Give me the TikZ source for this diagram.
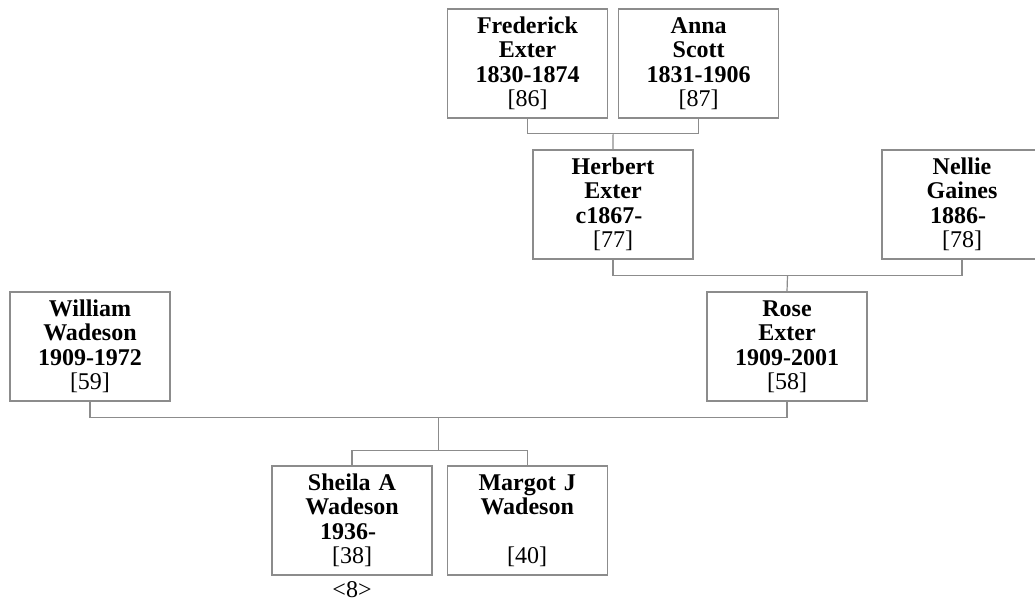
\documentclass[tikz,border=0pt]{standalone}
\usepackage{fontspec}
\setmainfont{Liberation Serif}
\usetikzlibrary{positioning,calc}
\tikzset{
  pb/.style={rectangle, minimum width=160pt, minimum height=109pt, text width=156pt, inner sep=0pt, align=center, draw=black!45, line width=1.2pt, font=\fontsize{24}{24.5}\selectfont},
  ln/.style={draw=black!45, line width=1.2pt},
  node distance=10pt
}

\begin{document}
\begin{tikzpicture}[x=1pt,y=-1pt]
	\useasboundingbox (0,0) rectangle (1035,602);
	\node[pb] (fred) at (527.5,63.5) {\textbf{Frederick}\\\textbf{Exter}\\\textbf{1830-1874}\\{[86]}};
	\node[pb, right=of fred] (anna) {\textbf{Anna}\\\textbf{Scott}\\\textbf{1831-1906}\\{[87]}};
	\node[pb] (herbert) at (613,204.5) {\textbf{Herbert}\\\textbf{Exter}\\\textbf{c1867-}\kern8pt\\{[77]}};
	\node[pb] (nellie) at (962,204.5) {\textbf{Nellie}\\\textbf{Gaines}\\\textbf{1886-}\kern8pt\\{[78]}};
	\node[pb] (william) at (90,346.5) {\textbf{William}\\\textbf{Wadeson}\\\textbf{1909-1972}\\{[59]}};
	\node[pb] (rose) at (787,346.5) {\textbf{Rose}\\\textbf{Exter}\\\textbf{1909-2001}\\{[58]}};
	\node[pb] (sheila) at (352,520.5) {\textbf{Sheila A}\\\textbf{Wadeson}\\\textbf{1936-}\kern8pt\\{[38]}};
	\node[pb, right=14pt of sheila] (margot) {\textbf{Margot J}\\\textbf{Wadeson}\\\mbox{}\\{[40]}};
	\node[below=6pt of sheila, inner sep=0pt, font=\fontsize{24}{24.5}\selectfont] (ref) {<8>};
	%
	\coordinate (fa) at ($(fred.south)!0.5!(anna.south)+(0,15)$);
	\coordinate (hn) at ($(herbert.south)!0.5!(nellie.south)+(0,16)$);
	\coordinate (wr) at ($(william.south)!0.5!(rose.south)+(0,16)$);
	\coordinate (kids) at ($(wr |- sheila.north)+(0,-15)$);
	\draw[ln] (fred.south) |- (fa) -| (anna.south);
	\draw[ln] (fa) -- (herbert.north);
	\draw[ln] (herbert.south) |- (hn) -| (nellie.south);
	\draw[ln] (hn) -- (rose.north);
	\draw[ln] (william.south) |- (wr) -| (rose.south);
	\draw[ln] (wr) -- (kids);
	\draw[ln] (sheila.north) |- (kids) -| (margot.north);
\end{tikzpicture}
\end{document}
